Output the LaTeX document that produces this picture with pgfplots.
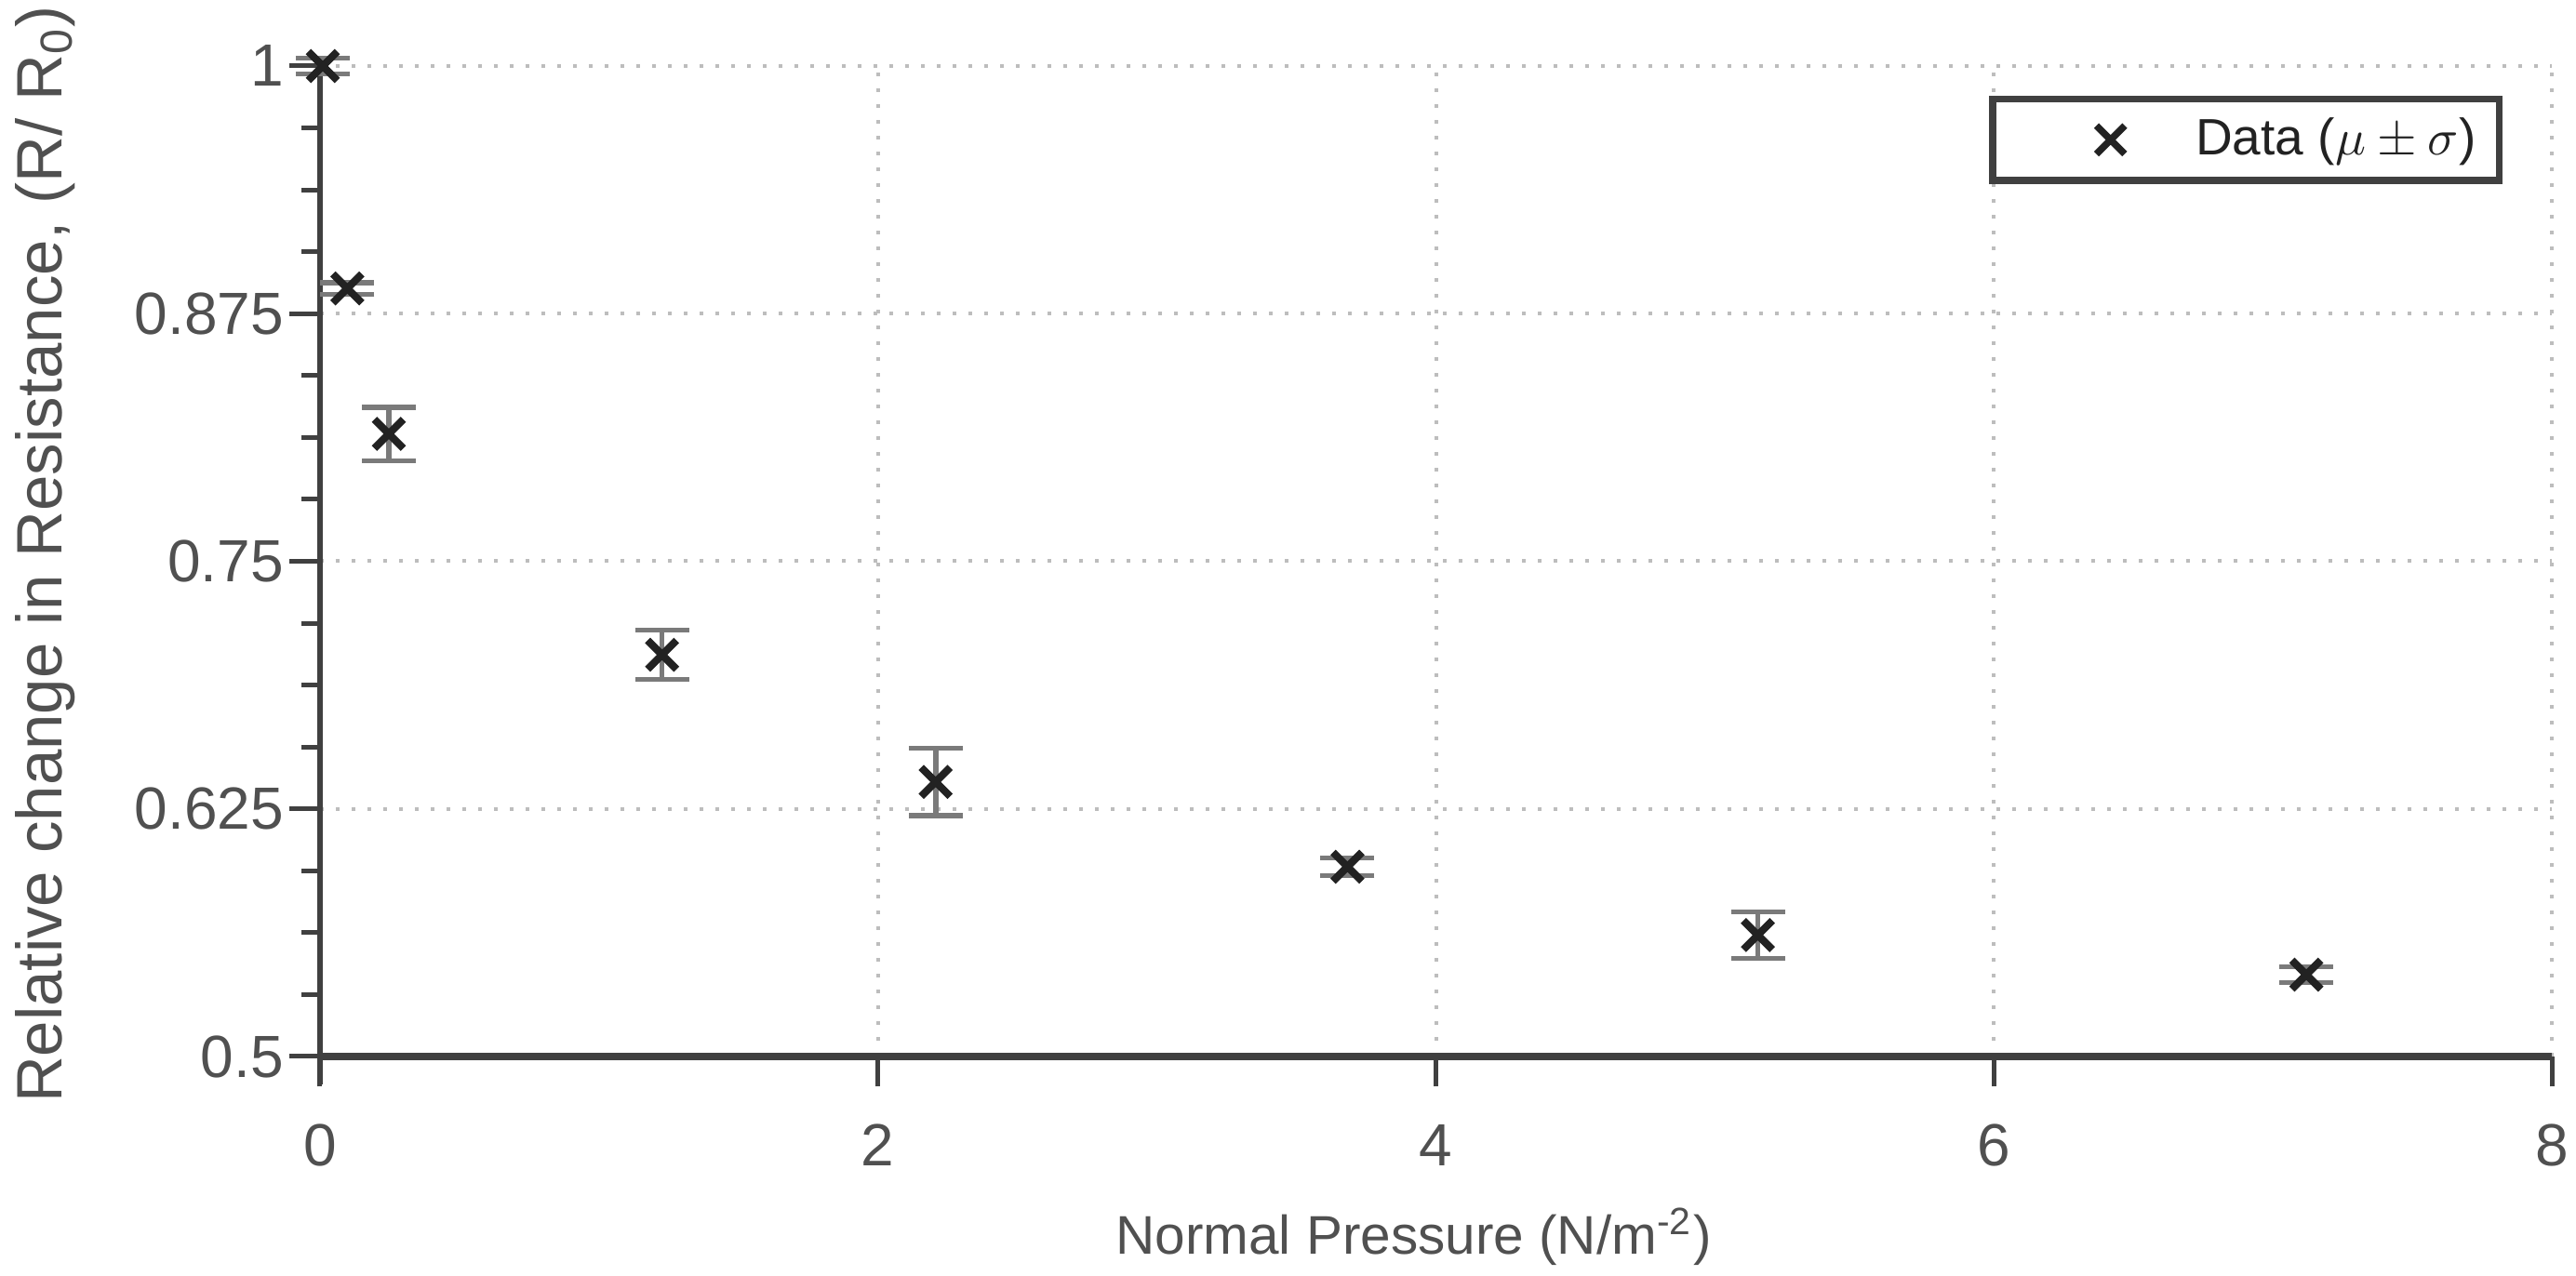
\documentclass[border=0pt]{standalone}
\usepackage{pgfplots}
\pgfplotsset{compat=1.18}
\usepackage{fontspec}
\setmainfont{Liberation Sans}
\definecolor{textgray}{HTML}{505050}
\definecolor{axisgray}{HTML}{404040}
\definecolor{gridgray}{HTML}{BDBDBD}
\definecolor{markblack}{HTML}{222222}
\definecolor{errgray}{HTML}{7A7A7A}
\begin{document}
\begin{tikzpicture}
\useasboundingbox (-68.8pt,-47.2pt) rectangle (485pt,227.2pt);
\begin{axis}[
  scale only axis,
  width=479.8pt, height=213pt,
  at={(0,0)}, anchor=south west,
  xmin=0, xmax=8, ymin=0.5, ymax=1,
  clip=false,
  axis x line=bottom, axis y line=left,
  x axis line style={-, color=axisgray, line width=1.5pt},
  y axis line style={-, color=axisgray, line width=1.1pt, shorten <=-6pt},
  xtick={0,2,4,6,8},
  ytick={0.5,0.625,0.75,0.875,1},
  yticklabels={0.5,0.625,0.75,0.875,1},
  minor y tick num=3,
  tick align=outside,
  major tick length=6.5pt,
  minor tick length=4pt,
  tick style={color=axisgray, line width=1pt},
  minor tick style={color=axisgray, line width=1pt},
  grid=major,
  major grid style={color=gridgray, line width=0.8pt, dash pattern=on 0.8pt off 2.6pt},
  /pgf/number format/assume math mode=true,
  tick label style={font=\fontsize{12.8}{14}\selectfont, text=textgray},
  xticklabel style={anchor=center, yshift=-12.6pt},
  yticklabel style={anchor=east, xshift=2.2pt},
  xlabel={Normal Pressure (N/m\textsuperscript{-2})},
  ylabel={Relative change in Resistance, (R/ R\textsubscript{0})},
  x label style={font=\fontsize{11.7}{14}\selectfont, text=textgray, at={(axis description cs:0.49,-0.182)}, anchor=center},
  y label style={font=\fontsize{13.8}{15}\selectfont, text=textgray, at={(axis description cs:-0.123,0.507)}, anchor=center},
  legend style={at={(0.978,0.970)}, anchor=north east, draw=axisgray, line width=1.5pt,
    font=\fontsize{11}{13}\selectfont, text=markblack, inner xsep=3pt, inner ysep=2pt},
  legend cell align=left,
  legend image code/.code={\path[draw=none] (-22.3pt,0pt) -- (16.3pt,0pt); \path[draw=markblack, line width=1.5pt] plot[only marks, mark=x, mark size=4.3pt] coordinates {(0pt,0pt)};},
]
\addplot[only marks, mark=x, mark size=4.4pt, draw=markblack, line width=1.6pt,
  error bars/.cd, y dir=both, y explicit,
  error bar style={color=errgray, line width=1.1pt},
  error mark options={rotate=90, mark size=5.8pt, line width=1.1pt, color=errgray}]
  coordinates {
  (0.01,1.0) +- (0,0.004)
  (0.098,0.8877) +- (0,0.003)
  (0.247,0.8143) +- (0,0.0135)
  (1.226,0.7028) +- (0,0.0124)
  (2.207,0.6386) +- (0,0.0170)
  (3.683,0.5958) +- (0,0.0045)
  (5.154,0.5613) +- (0,0.0118)
  (7.120,0.5413) +- (0,0.0040)
  };
\addlegendentry{Data ($\mu \pm \sigma$)}
\end{axis}
\end{tikzpicture}
\end{document}
